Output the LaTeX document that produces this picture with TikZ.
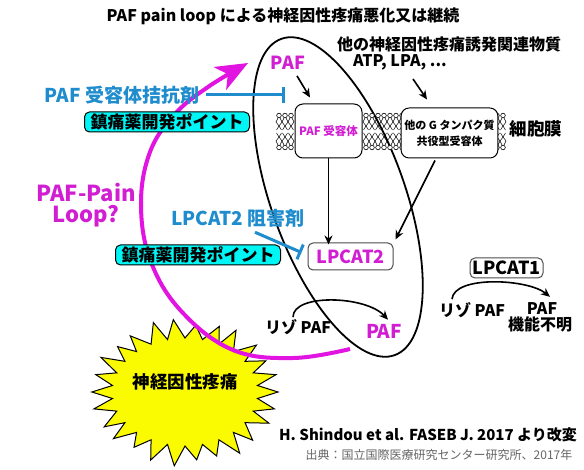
\documentclass[tikz,border=0pt]{standalone}
\usepackage{fontspec}
\setmainfont{Noto Sans CJK JP}
\usetikzlibrary{arrows.meta}
\definecolor{mag}{RGB}{225,20,225}
\definecolor{magtxt}{RGB}{210,30,210}
\definecolor{blu}{RGB}{30,140,205}
\definecolor{cyn}{RGB}{0,245,245}
\definecolor{yel}{RGB}{250,250,0}
\newcommand\fsz[1]{\fontsize{#1}{#1}\selectfont}
\newcommand\lipidpair[1]{%
  \draw[line width=0.6pt,fill=white] (#1,115.5) circle (2.3pt);
  \draw[line width=0.6pt,fill=white] (#1,147.5) circle (2.3pt);
  \draw[line width=0.5pt] (#1-1,118) -- (#1-3,122) -- (#1,126) -- (#1-2.5,130);
  \draw[line width=0.5pt] (#1+1,118) -- (#1+3,122) -- (#1,126) -- (#1+2.5,130);
  \draw[line width=0.5pt] (#1-1,145) -- (#1-3,141) -- (#1,137) -- (#1-2.5,133);
  \draw[line width=0.5pt] (#1+1,145) -- (#1+3,141) -- (#1,137) -- (#1+2.5,133);
}
\begin{document}
\begin{tikzpicture}[x=1pt,y=-1pt,
  txt/.style={inner sep=0pt, font=\bfseries},
  devbox/.style={draw=black, line width=1pt, fill=cyn, rounded corners=5pt, inner sep=0pt,
     font=\bfseries\fsz{17}, minimum width=165pt, minimum height=20pt},
  rbox/.style={draw=black, line width=1pt, fill=white, rounded corners=8pt},
  gbox/.style={draw=black!70, line width=1pt, fill=white, rounded corners=5pt, inner sep=0pt},
  conn/.style={line width=1.6pt, -{Stealth[length=9pt,width=8pt]}},
  inhib/.style={draw=blu, line width=3pt, -{Bar[width=16pt]}}]
\useasboundingbox (0,0) rectangle (584,470);
\fill[white] (0,0) rectangle (584,470);

% big ellipse
\draw[line width=1.8pt, rotate around={-70.3:(338,197)}] (338,197) ellipse [x radius=168pt, y radius=67pt];

% starburst points
\foreach \i in {0,...,51}{%
  \ifodd\i
    \pgfmathsetmacro\rx{73}\pgfmathsetmacro\ry{54}%
  \else
    \pgfmathsetmacro\rx{93+4*sin(\i*97)}\pgfmathsetmacro\ry{71+4*cos(\i*131)}%
  \fi
  \pgfmathsetmacro\aa{\i*6.923077}%
  \pgfmathsetmacro\xx{185+\rx*cos(\aa)}%
  \pgfmathsetmacro\yy{392+\ry*sin(\aa)}%
  \coordinate (s\i) at (\xx,\yy);
}
\filldraw[fill=yel, draw=black, line width=1pt] (s0) \foreach \i in {1,...,51}{ -- (s\i)} -- cycle;

% magenta loop
\coordinate (loopstart) at (350,349);
\coordinate (loopend) at (248,63);
\draw[mag, line width=4pt, -{Stealth[length=32pt,width=26pt,inset=9pt]}]
  plot[smooth, tension=0.65] coordinates {(loopstart) (293,358) (233,350) (182,312) (151,262) (141,205) (150,152) (175,114) (208,87) (loopend)};

% membrane lipids
\foreach \p in {279,285,291,366,372,378,384,390,396,402,497,503} {\lipidpair{\p}}

% nodes
\node[txt, font=\bfseries\fsz{16}] (title) at (283,16) {PAF pain loop による神経因性疼痛悪化又は継続};
\node[txt, font=\bfseries\fsz{16}] (other) at (449,44) {他の神経因性疼痛誘発関連物質};
\node[txt, font=\bfseries\fsz{16}] (atp) at (400,62) {ATP, LPA, ...};
\node[txt, font=\bfseries\fsz{18}, text=magtxt] (paf1) at (288,63) {PAF};
\node[txt, font=\bfseries\fsz{19}, text=blu] (antag) at (122,95) {PAF 受容体拮抗剤};
\node[devbox] (dev1) at (167,122) {鎮痛薬開発ポイント};
\node[rbox, minimum width=67pt, minimum height=54pt, font=\bfseries\fsz{11.5}, text=magtxt] (pafr) at (328.5,131) {PAF 受容体};
\node[rbox, minimum width=85pt, minimum height=50pt, align=center, font=\bfseries\fontsize{11}{16}\selectfont] (gpr) at (449.5,133) {他の G タンパク質\\共役型受容体};
\node[txt, font=\bfseries\fsz{17.5}] (memb) at (536,129) {細胞膜};
\node[gbox, minimum width=85pt, minimum height=27pt, font=\bfseries\fsz{18}, text=magtxt] (lp2) at (350.5,256.5) {LPCAT2};
\node[txt, text=blu, font=\bfseries\fsz{19}] (inh2) at (238,218) {LPCAT2 阻害剤};
\node[devbox] (dev2) at (198,255) {鎮痛薬開発ポイント};
\node[txt, text=magtxt, align=center, font=\bfseries\fontsize{22}{21}\selectfont] (loop) at (86,205) {PAF-Pain\\Loop?};
\node[txt, font=\bfseries\fsz{16}] (lyso1) at (298,327) {リゾ PAF};
\node[txt, text=magtxt, font=\bfseries\fsz{19}] (paf2) at (384,331) {PAF};
\node[gbox, minimum width=73pt, minimum height=20pt, font=\bfseries\fsz{18}] (lp1) at (506.5,268) {LPCAT1};
\node[txt, font=\bfseries\fsz{16}] (lyso2) at (472,310) {リゾ PAF};
\node[txt, font=\bfseries\fsz{16}] (paf3) at (542,309) {PAF};
\node[txt, font=\bfseries\fsz{16}] (unk) at (540,324) {機能不明};
\node[txt, font=\bfseries\fsz{17.5}] (pain) at (185,382) {神経因性疼痛};
\node[txt, font=\bfseries\fsz{15}] (ref) at (428,435) {H. Shindou et al. FASEB J. 2017 より改変};
\node[txt, font=\fsz{12}, text=black!60] (src) at (439,455) {出典：国立国際医療研究センター研究所、2017年};

% connectors
\draw[conn] ([shift={(9,6)}]paf1.south) -- ([shift={(-18.5,-6)}]pafr.north);
\draw[conn] ([shift={(13,9)}]atp.south) -- ([shift={(-22.5,-8)}]gpr.north);
\draw[conn] (pafr.south) -- ([yshift=-2pt]pafr.south |- lp2.north);
\draw[conn] ([shift={(-14.5,2)}]gpr.south) -- ([shift={(2,-3)}]lp2.north east);
\draw[inhib] ([xshift=7pt]antag.east) -- ([xshift=-10pt]pafr.west |- antag.east);
\draw[inhib] ([shift={(17,5)}]inh2.south) -- ([shift={(-6,-4)}]lp2.west);
\draw[conn] ([shift={(-5,-2)}]lyso1.north) .. controls +(0,-24) and +(-22,-24) .. ([shift={(4,-4)}]paf2.north);
\draw[conn] ([shift={(-20,-3)}]lyso2.north) .. controls +(2,-24) and +(-22,-18) .. ([shift={(8,-6)}]paf3.north);
\end{tikzpicture}
\end{document}
